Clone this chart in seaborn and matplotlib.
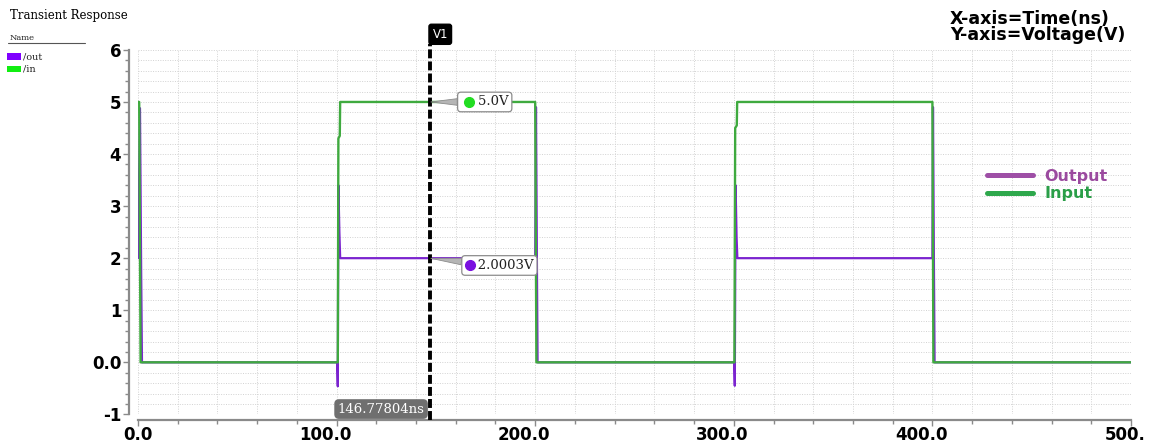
import matplotlib
matplotlib.use("Agg")
import matplotlib.pyplot as plt
import seaborn as sns
from matplotlib.lines import Line2D
from matplotlib.patches import Rectangle
from matplotlib.ticker import MultipleLocator
from matplotlib.transforms import ScaledTranslation, blended_transform_factory

# Transient simulation samples: time (ns) and voltage (V)
in_time = [0.0, 0.6, 1.3, 100.6, 100.9, 101.6, 101.8, 200.0, 200.6,
           300.3, 300.7, 301.5, 301.7, 400.0, 400.5, 500.0]
in_volt = [5.0, 5.0, 0.0, 0.0, 4.3, 4.35, 5.0, 5.0, 0.0,
           0.0, 4.5, 4.55, 5.0, 5.0, 0.0, 0.0]

out_time = [0.0, 1.0, 1.6, 2.0, 100.3, 100.6, 100.9, 101.4, 101.8,
            200.0, 200.4, 200.9, 201.2, 300.2, 300.5, 300.9, 301.4, 301.8,
            400.0, 400.3, 400.8, 401.1, 500.0]
out_volt = [2.0, 4.88, 1.7, 0.0, 0.0, -0.46, 3.4, 2.5, 2.0003,
            2.0003, 4.9, 1.7, 0.0, 0.0, -0.45, 3.4, 2.4, 2.0003,
            2.0003, 4.9, 1.7, 0.0, 0.0]

x_ticks = [0, 100, 200, 300, 400, 500]
x_tick_labels = ["0.0", "100.0", "200.0", "300.0", "400.0", "500."]
y_ticks = [-1, 0, 1, 2, 3, 4, 5, 6]
y_tick_labels = ["-1", "0.0", "1", "2", "3", "4", "5", "6"]

cursor_name = "V1"
cursor_time = 146.77804
cursor_in = 5.0
cursor_out = 2.0003

series_names = ["/out", "/in"]
legend_labels = ["Output", "Input"]

OUT_C = "#7b24cf"
IN_C = "#3faa3f"
OUT_LEG = "#9e4fa6"
IN_LEG = "#2ea84c"
SPINE_C = "#8a8a8a"
SERIF = "DejaVu Serif"

sns.set_theme(style="white")
plt.rcParams["font.family"] = ["DejaVu Sans"]
plt.rcParams["text.color"] = "black"
plt.rcParams["xtick.labelcolor"] = "black"
plt.rcParams["ytick.labelcolor"] = "black"

W, H = 1152, 443
fig = plt.figure(figsize=(W / 100, H / 100), dpi=100)
ax = fig.add_axes([138 / W, (H - 414.4) / H, 993 / W, 364.5 / H])

sns.lineplot(x=out_time, y=out_volt, ax=ax, color=OUT_C, lw=1.6,
             estimator=None, sort=False, zorder=2)
sns.lineplot(x=in_time, y=in_volt, ax=ax, color=IN_C, lw=1.7,
             estimator=None, sort=False, zorder=3)

ax.set_xlim(0, 500)
ax.set_ylim(-1, 6)
ax.set_xticks(x_ticks)
ax.set_yticks(y_ticks)
ax.xaxis.set_minor_locator(MultipleLocator(20))
ax.yaxis.set_minor_locator(MultipleLocator(0.2))
ax.grid(which="both", ls=(0, (1, 1.5)), lw=0.7, color="#d2d2d2")
ax.set_axisbelow(True)
ax.set_xlabel("")
ax.set_ylabel("")

sns.despine(ax=ax, offset={"left": 6.3, "bottom": 4}, trim=True)
for s in ("left", "bottom"):
    ax.spines[s].set_color(SPINE_C)
    ax.spines[s].set_linewidth(1.6)

ax.set_xticklabels(x_tick_labels)
ax.set_yticklabels(y_tick_labels)
ax.tick_params(which="both", bottom=True, left=True, direction="out",
               color=SPINE_C, width=1.0)
ax.tick_params(which="major", length=4, labelsize=12)
ax.tick_params(axis="y", which="major", pad=1.7)
ax.tick_params(axis="x", which="major", pad=0.5)
ax.tick_params(which="minor", length=3)

for lbl in ax.get_yticklabels():
    lbl.set_fontweight("bold")
for lbl in ax.get_xticklabels():
    lbl.set_fontweight("bold")
    lbl.set_horizontalalignment("right")
    lbl.set_transform(lbl.get_transform()
                      + ScaledTranslation(15 / 100, 0, fig.dpi_scale_trans))

# Cursor line with its name tag and time readout
xa = blended_transform_factory(ax.transData, ax.transAxes)
ax.axvline(cursor_time, ymin=-0.015, ymax=1.016, clip_on=False,
           color="black", lw=2.8, ls=(0, (2.3, 0.8)), zorder=6)
ax.text(cursor_time, 1.025, cursor_name, transform=xa + ScaledTranslation(
            3 / 100, 0, fig.dpi_scale_trans),
        ha="left", va="bottom", color="white", fontsize=8.5, clip_on=False,
        bbox=dict(boxstyle="round,pad=0.3,rounding_size=0.2", fc="black",
                  ec="black"), zorder=7)
ax.text(cursor_time, -0.897, f"{cursor_time}ns",
        transform=ax.transData + ScaledTranslation(-5 / 100, 0,
                                                   fig.dpi_scale_trans),
        ha="right", va="center", color="white", family=SERIF, fontsize=9.5,
        bbox=dict(boxstyle="round,pad=0.2,rounding_size=0.3", fc="#6f6f6f",
                  ec="#6f6f6f"), zorder=7)

# Value readouts where the cursor crosses each trace
readouts = [
    (cursor_in, 162.6, 5.0, 166.6, "    ", "#22dd22"),
    (cursor_out, 164.7, 1.86, 167.0, "   ", "#7a10e0"),
]
for value, tx, ty, dot_x, gap, dot_c in readouts:
    ax.annotate(f"{gap}{value}V", xy=(cursor_time, value), xytext=(tx, ty),
                textcoords="data", ha="left", va="center", family=SERIF,
                fontsize=9.5, color="#222222", zorder=8,
                bbox=dict(boxstyle="round,pad=0.25", fc="white", ec="#8c8c8c",
                          lw=0.9),
                arrowprops=dict(arrowstyle="wedge,tail_width=0.5",
                                fc="#b5b5b5", ec="#8c8c8c", lw=0.6,
                                shrinkA=0, shrinkB=1))
    ax.plot([dot_x], [ty], "o", color=dot_c, ms=7, mec=dot_c, zorder=9)

# Right-hand legend
handles = [Line2D([], [], color=OUT_LEG, lw=3.6, solid_capstyle="round"),
           Line2D([], [], color=IN_LEG, lw=3.6, solid_capstyle="round")]
leg = ax.legend(handles=handles, labels=legend_labels, loc="upper left",
                bbox_to_anchor=(987 / W, 1 - 169 / H),
                bbox_transform=fig.transFigure, frameon=False, borderpad=0,
                borderaxespad=0, handlelength=2.9, handletextpad=0.7,
                labelspacing=0.14, prop=dict(weight="bold", size=11.5))
for txt, c in zip(leg.get_texts(), ["#9b4a9f", "#2a9e48"]):
    txt.set_color(c)

# Axis description in the top-right corner
fig.text(950 / W, 1 - 19 / H, "X-axis=Time(ns)", ha="left", va="center",
         fontsize=12.5, fontweight="bold", color="black")
fig.text(950 / W, 1 - 35.5 / H, "Y-axis=Voltage(V)", ha="left", va="center",
         fontsize=12.5, fontweight="bold", color="black")

# Title and signal list in the top-left corner
fig.text(10 / W, 1 - 15.5 / H, "Transient Response", ha="left", va="center",
         family=SERIF, fontsize=8.5, color="black")
fig.text(10 / W, 1 - 38 / H, "Name", ha="left", va="center", family=SERIF,
         fontsize=6, color="#222222")
fig.add_artist(Line2D([8 / W, 85 / W], [1 - 42.7 / H] * 2,
                      transform=fig.transFigure, color="#555555", lw=0.8))
for i, (name, c) in enumerate(zip(series_names, ["#8000ff", "#11ee11"])):
    yc = 56.5 + 12.8 * i
    fig.add_artist(Rectangle((7 / W, 1 - (yc + 3) / H), 14 / W, 6 / H,
                             transform=fig.transFigure, color=c, lw=0))
    fig.text(23 / W, 1 - yc / H, name, ha="left", va="center", family=SERIF,
             fontsize=7, color="#222222")

fig.savefig("out.png", dpi=100)
